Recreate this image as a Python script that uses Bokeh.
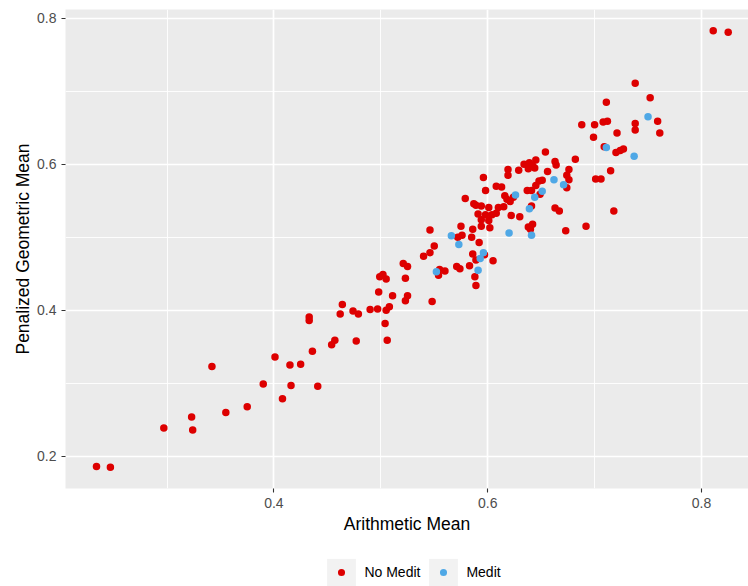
from bokeh.plotting import figure
from bokeh.models import Range1d, FixedTicker, Legend, LegendItem
from bokeh.layouts import column
from bokeh.embed import file_html
from bokeh.resources import INLINE

# ---- data ----
no_medit_x = [0.234, 0.247, 0.297, 0.323, 0.324, 0.342, 0.355, 0.375, 0.390, 0.401,
              0.408, 0.415, 0.416, 0.425, 0.433, 0.433, 0.436, 0.441, 0.454, 0.457,
              0.477, 0.506, 0.504, 0.462, 0.464, 0.474, 0.479, 0.490, 0.497, 0.505,
              0.508, 0.498, 0.511, 0.525, 0.523, 0.548, 0.502, 0.499, 0.505, 0.523,
              0.521, 0.525, 0.540, 0.546, 0.550, 0.546, 0.555, 0.560, 0.554, 0.571,
              0.574, 0.583, 0.588, 0.589, 0.575, 0.586, 0.576, 0.572, 0.585, 0.592,
              0.586, 0.597, 0.589, 0.605, 0.579, 0.587, 0.589, 0.594, 0.601, 0.610,
              0.591, 0.598, 0.604, 0.594, 0.601, 0.594, 0.602, 0.596, 0.608, 0.598,
              0.711, 0.752, 0.688, 0.700, 0.708, 0.712, 0.738, 0.759, 0.699, 0.721,
              0.738, 0.761, 0.709, 0.720, 0.724, 0.727, 0.738, 0.811, 0.825, 0.654,
              0.682, 0.645, 0.634, 0.639, 0.642, 0.644, 0.638, 0.663, 0.664, 0.619,
              0.629, 0.656, 0.676, 0.619, 0.674, 0.676, 0.715, 0.701, 0.706, 0.674,
              0.613, 0.648, 0.651, 0.645, 0.637, 0.641, 0.649, 0.616, 0.624, 0.618,
              0.621, 0.641, 0.663, 0.667, 0.718, 0.615, 0.608, 0.622, 0.630, 0.642,
              0.638, 0.640, 0.673, 0.692]
no_medit_y = [0.186, 0.185, 0.239, 0.254, 0.236, 0.323, 0.260, 0.268, 0.299, 0.336,
              0.279, 0.325, 0.297, 0.326, 0.391, 0.386, 0.344, 0.296, 0.353, 0.359,
              0.358, 0.359, 0.382, 0.395, 0.408, 0.399, 0.395, 0.401, 0.402, 0.400,
              0.405, 0.425, 0.420, 0.420, 0.413, 0.412, 0.449, 0.446, 0.443, 0.444,
              0.464, 0.460, 0.474, 0.479, 0.488, 0.510, 0.456, 0.454, 0.448, 0.460,
              0.457, 0.461, 0.446, 0.434, 0.515, 0.511, 0.503, 0.500, 0.500, 0.493,
              0.477, 0.476, 0.469, 0.468, 0.553, 0.546, 0.544, 0.543, 0.541, 0.541,
              0.532, 0.531, 0.531, 0.524, 0.523, 0.515, 0.513, 0.582, 0.570, 0.564,
              0.685, 0.691, 0.654, 0.654, 0.658, 0.659, 0.656, 0.659, 0.637, 0.643,
              0.647, 0.643, 0.624, 0.616, 0.619, 0.621, 0.711, 0.783, 0.781, 0.617,
              0.607, 0.606, 0.600, 0.602, 0.598, 0.595, 0.594, 0.604, 0.599, 0.593,
              0.592, 0.590, 0.593, 0.585, 0.585, 0.579, 0.591, 0.580, 0.580, 0.568,
              0.569, 0.577, 0.578, 0.571, 0.564, 0.564, 0.559, 0.557, 0.555, 0.552,
              0.549, 0.543, 0.540, 0.536, 0.536, 0.542, 0.533, 0.530, 0.528, 0.518,
              0.514, 0.511, 0.509, 0.515]

medit_x = [0.552, 0.566, 0.573, 0.591, 0.593, 0.596, 0.626, 0.620, 0.641, 0.644,
           0.639, 0.651, 0.662, 0.671, 0.711, 0.737, 0.750]
medit_y = [0.453, 0.502, 0.490, 0.455, 0.471, 0.479, 0.558, 0.506, 0.503, 0.555,
           0.539, 0.563, 0.579, 0.572, 0.623, 0.611, 0.665]

x_ticks = [0.4, 0.6, 0.8]
x_minor = [0.3, 0.5, 0.7]
y_ticks = [0.2, 0.4, 0.6, 0.8]
y_minor = [0.3, 0.5, 0.7]

group_labels = ["No Medit", "Medit"]
RED = "#DD0000"
BLUE = "#4FA8E6"
KEY_BG = "#F2F2F2"
FONT = "Liberation Sans"

p = figure(width=748, height=540, output_backend="svg", toolbar_location=None,
           x_range=Range1d(0.205, 0.844), y_range=Range1d(0.156, 0.812),
           min_border_left=65, min_border_right=0, min_border_top=9,
           min_border_bottom=52)
p.background_fill_color = "#EBEBEB"
p.border_fill_color = "white"
p.outline_line_color = None

xt = FixedTicker(ticks=x_ticks, minor_ticks=x_minor)
yt = FixedTicker(ticks=y_ticks, minor_ticks=y_minor)
p.xaxis.ticker = xt
p.yaxis.ticker = yt
p.xgrid.ticker = xt
p.ygrid.ticker = yt

for g in (p.xgrid, p.ygrid):
    g.grid_line_color = "white"
    g.grid_line_width = 1.7
    g.minor_grid_line_color = "white"
    g.minor_grid_line_width = 0.9

for ax in (p.xaxis, p.yaxis):
    ax.axis_line_color = None
    ax.major_tick_in = 0
    ax.major_tick_out = 4
    ax.major_tick_line_color = "#333333"
    ax.major_tick_line_width = 1.1
    ax.minor_tick_line_color = None
    ax.major_label_text_font = FONT
    ax.major_label_text_font_size = "14px"
    ax.major_label_text_color = "#4D4D4D"
    ax.axis_label_text_font = FONT
    ax.axis_label_text_font_size = "17.5px"
    ax.axis_label_text_font_style = "normal"
    ax.axis_label_text_color = "black"

p.xaxis.axis_label = "Arithmetic Mean"
p.yaxis.axis_label = "Penalized Geometric Mean"
p.xaxis.major_label_standoff = 5
p.xaxis.axis_label_standoff = 3
p.yaxis.major_label_standoff = 5
p.yaxis.axis_label_standoff = 1

p.scatter(no_medit_x, no_medit_y, size=7.5, fill_color=RED, line_color=None)
p.scatter(medit_x, medit_y, size=7.5, fill_color=BLUE, line_color=None)

# ---- legend strip below the plot (its frame is aligned with the plot's) ----
lg = figure(width=748, height=46, output_backend="svg", toolbar_location=None,
            x_axis_type=None, y_axis_type=None, min_border=0,
            x_range=Range1d(0, 1), y_range=Range1d(0, 1))
lg.grid.visible = False
lg.outline_line_color = None
lg.background_fill_color = "white"
lg.border_fill_color = "white"

# hidden renderers used only to draw the legend keys
bg_r = lg.quad(left=no_medit_x[:1], right=no_medit_x[:1], top=no_medit_y[:1],
               bottom=no_medit_y[:1], fill_color=KEY_BG, line_color=None, visible=False)
dot_r = lg.scatter(no_medit_x[:1], no_medit_y[:1], size=7.5, fill_color=RED,
                   line_color=KEY_BG, line_width=6.5, visible=False)
bg_b = lg.quad(left=medit_x[:1], right=medit_x[:1], top=medit_y[:1],
               bottom=medit_y[:1], fill_color=KEY_BG, line_color=None, visible=False)
dot_b = lg.scatter(medit_x[:1], medit_y[:1], size=7.5, fill_color=BLUE,
                   line_color=KEY_BG, line_width=6.5, visible=False)

legend = Legend(items=[LegendItem(label=group_labels[0], renderers=[bg_r, dot_r]),
                       LegendItem(label=group_labels[1], renderers=[bg_b, dot_b])],
                location=(258.4, -3.4), orientation="horizontal",
                glyph_width=36, glyph_height=34, label_standoff=5, spacing=5,
                padding=0, margin=0, border_line_color=None,
                background_fill_alpha=0, label_text_font=FONT,
                label_text_font_size="14px", label_text_color="black")
lg.add_layout(legend)

layout = column(p, lg, spacing=0)
open("out.html", "w").write(file_html(layout, INLINE))
